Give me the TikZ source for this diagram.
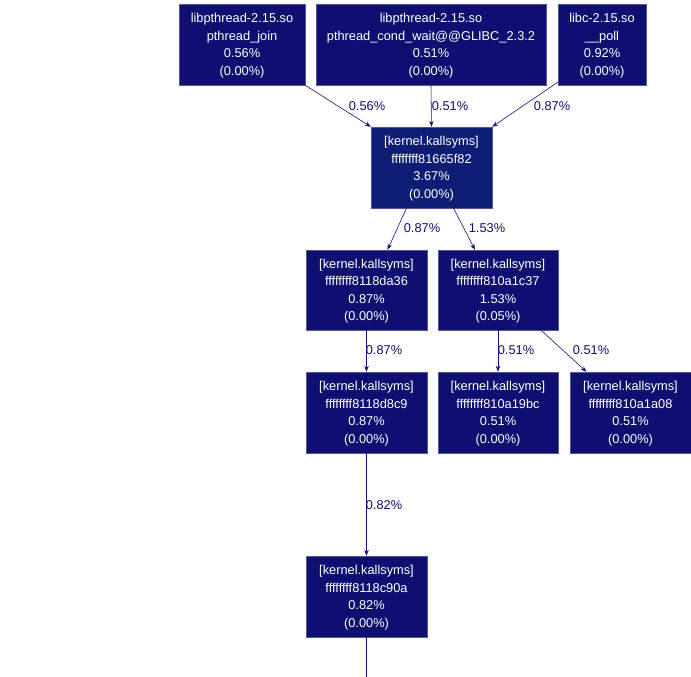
\documentclass[tikz,border=0pt]{standalone}
\usepackage{fontspec}
\setmainfont{Liberation Sans}
\usetikzlibrary{arrows.meta}
\definecolor{boxnavy}{RGB}{14,15,112}
\definecolor{boxnavyK}{RGB}{13,29,116}
\definecolor{edgenavy}{RGB}{20,20,125}
\definecolor{lblnavy}{RGB}{14,15,112}
\begin{document}
\begin{tikzpicture}[x=1pt,y=-1pt,
  fn/.style={font=\fontsize{12.8}{17.5}\selectfont},
  box/.style={fn, fill=boxnavy, text=white, align=center, inner sep=0pt, text depth=0pt,
    minimum height=81pt, draw=boxnavy!70!white, line width=0.4pt},
  lbl/.style={fn, text=lblnavy, inner sep=0pt},
  edge/.style={draw=edgenavy, line width=0.6pt,
    -{Stealth[length=6pt,width=4.5pt]}}
]
\useasboundingbox (0,0) rectangle (691,677);
\node[box, minimum width=126pt] (A) at (242,44.5) {libpthread-2.15.so\\pthread\_join\\0.56\%\\(0.00\%)};
\node[box, minimum width=230pt] (B) at (431,44.5) {libpthread-2.15.so\\pthread\_cond\_wait@@GLIBC\_2.3.2\\0.51\%\\(0.00\%)};
\node[box, minimum width=88pt] (C) at (602,44.5) {libc-2.15.so\\\_\_poll\\0.92\%\\(0.00\%)};
\node[box, fill=boxnavyK, minimum width=121pt] (K) at (431.5,167.5) {[kernel.kallsyms]\\ffffffff81665f82\\3.67\%\\(0.00\%)};
\node[box, minimum width=121pt, minimum height=80pt] (D) at (366.5,290) {[kernel.kallsyms]\\ffffffff8118da36\\0.87\%\\(0.00\%)};
\node[box, minimum width=120pt, minimum height=80pt] (E) at (498,290) {[kernel.kallsyms]\\ffffffff810a1c37\\1.53\%\\(0.05\%)};
\node[box, minimum width=121pt] (F) at (366.5,412.5) {[kernel.kallsyms]\\ffffffff8118d8c9\\0.87\%\\(0.00\%)};
\node[box, minimum width=120pt] (G) at (498,412.5) {[kernel.kallsyms]\\ffffffff810a19bc\\0.51\%\\(0.00\%)};
\node[box, minimum width=121pt] (H) at (630.5,412.5) {[kernel.kallsyms]\\ffffffff810a1a08\\0.51\%\\(0.00\%)};
\node[box, minimum width=121pt] (I) at (366.5,596.5) {[kernel.kallsyms]\\ffffffff8118c90a\\0.82\%\\(0.00\%)};
\coordinate (Iend) at (366.5,677);

\draw[edge] (A.south east) -- (K.north west);
\draw[edge] (B.south) -- (K.north);
\draw[edge] ([yshift=3pt]C.south west) -- (K.north east);
\draw[edge] ([xshift=-25pt]K.south) -- ([xshift=21pt]D.north);
\draw[edge] ([xshift=22pt]K.south) -- ([xshift=-23pt]E.north);
\draw[edge] (D.south) -- (F.north);
\draw[edge] (E.south) -- (G.north);
\draw[edge] ([xshift=43pt]E.south) -- ([xshift=-44pt]H.north);
\draw[edge] (F.south) -- (I.north);
\draw[draw=edgenavy, line width=0.6pt] (I.south) -- (Iend);

\node[lbl] (l1) at (367,106) {0.56\%};
\node[lbl] (l2) at (450,106) {0.51\%};
\node[lbl] (l3) at (552,106) {0.87\%};
\node[lbl] (l4) at (422,228.5) {0.87\%};
\node[lbl] (l5) at (487,228.5) {1.53\%};
\node[lbl] (l6) at (384,350.5) {0.87\%};
\node[lbl] (l7) at (516,350.5) {0.51\%};
\node[lbl] (l8) at (591,350.5) {0.51\%};
\node[lbl] (l9) at (384,505) {0.82\%};
\end{tikzpicture}
\end{document}
